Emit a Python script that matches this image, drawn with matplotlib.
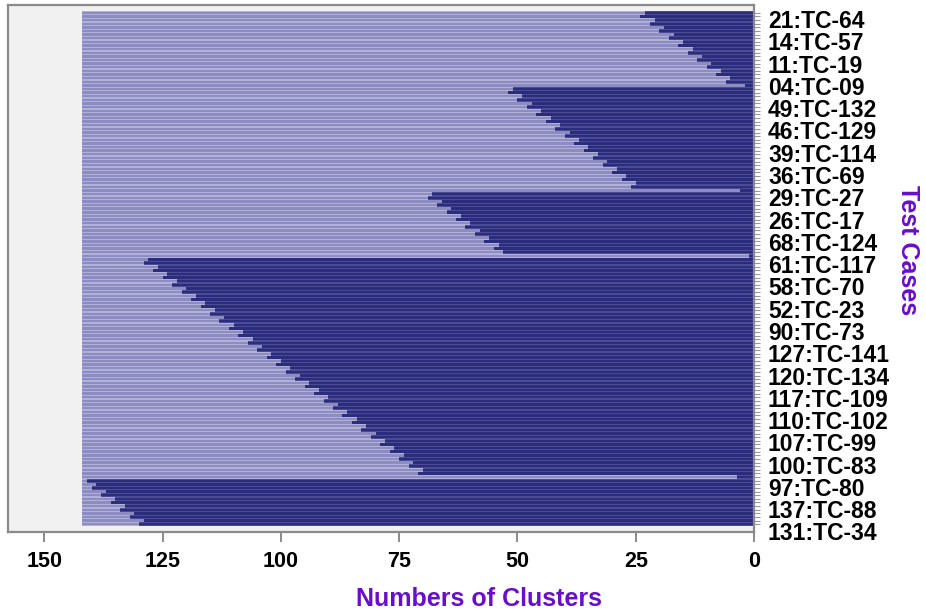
import matplotlib
matplotlib.use("Agg")
import matplotlib.pyplot as plt
import numpy as np

# Number-of-clusters value at which each test case row turns dark (top to bottom)
group_a = [23, 24, 21, 22, 19, 20, 17, 18, 15, 16, 13, 14, 11, 12, 9, 10, 7, 8, 5, 6, 2]
group_b = [51, 52, 49, 50, 47, 48, 45, 46, 43, 44, 41, 42, 39, 40, 37, 38, 35, 36, 33, 34,
           31, 32, 29, 30, 27, 28, 25, 26, 3]
group_c = [68, 69, 66, 67, 64, 65, 62, 63, 60, 61, 58, 59, 56, 57, 54, 55, 53, 1]
group_d = [128, 129, 126, 127, 124, 125, 122, 123, 120, 121, 118, 119, 116, 117, 114, 115,
           112, 113, 110, 111, 108, 109, 106, 107, 104, 105, 102, 103, 100, 101, 98, 99,
           96, 97, 94, 95, 92, 93, 90, 91, 88, 89, 86, 87, 84, 85, 82, 83, 80, 81, 78, 79,
           76, 77, 74, 75, 72, 73, 70, 71, 3.5]
group_e = [141, 139, 140, 137, 138, 135, 136, 133, 134, 131, 132, 129, 130]

max_clusters = 142

case_labels = ["21:TC-64", "14:TC-57", "11:TC-19", "04:TC-09", "49:TC-132", "46:TC-129",
               "39:TC-114", "36:TC-69", "29:TC-27", "26:TC-17", "68:TC-124", "61:TC-117",
               "58:TC-70", "52:TC-23", "90:TC-73", "127:TC-141", "120:TC-134", "117:TC-109",
               "110:TC-102", "107:TC-99", "100:TC-83", "97:TC-80", "137:TC-88", "131:TC-34"]

x_ticks = [150, 125, 100, 75, 50, 25, 0]

boundaries = np.array(group_a + group_b + group_c + group_d + group_e, dtype=float)
rows = np.arange(len(boundaries))

light_main = "#8c8cc1"
light_stripe = "#b0b0d8"
dark_main = "#2c2c7c"
dark_stripe = "#4c4c96"
purple = "#6a0dcc"

fig = plt.figure(figsize=(9.26, 6.13), dpi=100)
ax = fig.add_axes([0.0086, 0.1321, 0.8057, 0.8597])
ax.set_facecolor("#f1f1f1")

# stripe (full-height) layers
ax.barh(rows, max_clusters - boundaries, left=boundaries, height=1.0,
        color=light_stripe, linewidth=0)
ax.barh(rows, boundaries, left=0, height=1.0, color=dark_stripe, linewidth=0)
# main layers
ax.barh(rows, max_clusters - boundaries, left=boundaries, height=0.66,
        color=light_main, linewidth=0)
ax.barh(rows, boundaries, left=0, height=0.66, color=dark_main, linewidth=0)

ax.set_xlim(157.7, 0)
n = len(boundaries)
ax.set_ylim(n - 0.5 + 1.65, -0.5 - 1.65)

ax.set_xticks(x_ticks)
ax.set_xticklabels([str(v) for v in x_ticks], fontsize=15.5, fontweight="bold",
                   family="Liberation Sans")
ax.tick_params(axis="x", direction="out", length=7, width=1.2, color="#777777", pad=7)

label_pos = np.linspace(1.7, 143.0, len(case_labels))
ax.yaxis.tick_right()
ax.set_yticks(label_pos)
ax.set_yticklabels(case_labels, fontsize=16.5, fontweight="bold", family="Liberation Sans")
ax.tick_params(axis="y", which="major", length=0, pad=10)
ax.set_yticks(rows, minor=True)
ax.tick_params(axis="y", which="minor", direction="out", length=4, width=0.8,
               color="#999999", right=True, left=False)

for s in ax.spines.values():
    s.set_color("#8a8a8a")
    s.set_linewidth(1.6)

fig.text(0.517, 0.004, "Numbers of Clusters", color=purple, fontsize=18,
         fontweight="bold", family="Liberation Sans", ha="center", va="bottom")
fig.text(0.981, 0.592, "Test Cases", color=purple, fontsize=18, fontweight="bold",
         family="Liberation Sans", rotation=-90, ha="center", va="center")

fig.savefig("out.png", dpi=100)
